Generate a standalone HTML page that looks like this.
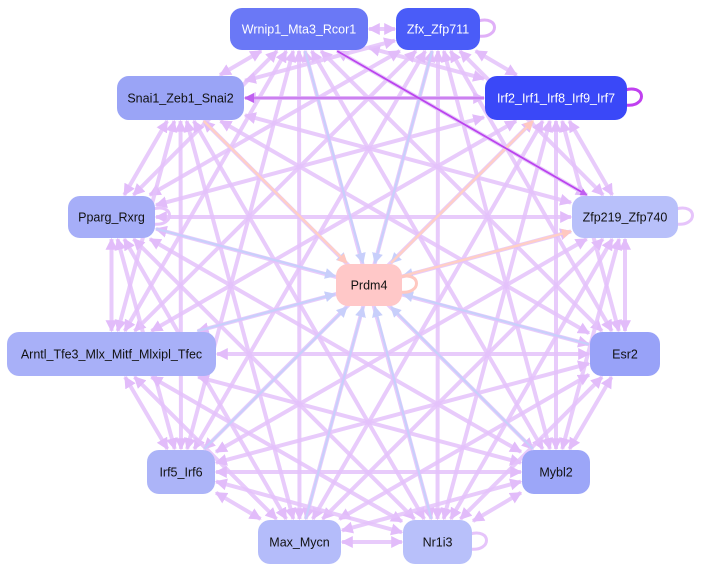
<!DOCTYPE html>
<html><head><meta charset="utf-8"><style>
html,body{margin:0;padding:0;background:#fff;width:710px;height:572px;overflow:hidden}
svg{display:block}
text{font-family:"Liberation Sans",sans-serif;font-size:12.5px}
</style></head><body>
<svg id="s" width="710" height="572" viewBox="0 0 710 572" xmlns="http://www.w3.org/2000/svg">
<defs>
<marker id="mp" viewBox="0 0 10 10" refX="9" refY="5" markerWidth="3" markerHeight="3" orient="auto"><path d="M0,0L10,5L0,10z" fill="#e2bcfa"/></marker>
<marker id="ms" viewBox="0 0 10 10" refX="1" refY="5" markerWidth="3" markerHeight="3" orient="auto"><path d="M10,0L0,5L10,10z" fill="#e2bcfa"/></marker>
<marker id="mb" viewBox="0 0 10 10" refX="9" refY="5" markerWidth="5" markerHeight="5" orient="auto"><path d="M0,0L10,5L0,10z" fill="#c8cffb"/></marker>
<marker id="md" viewBox="0 0 10 10" refX="9" refY="5" markerWidth="4" markerHeight="4" orient="auto"><path d="M0,0L10,5L0,10z" fill="#c060f0"/></marker>
<marker id="mo" viewBox="0 0 10 10" refX="9" refY="5" markerWidth="4" markerHeight="4" orient="auto"><path d="M0,0L10,5L0,10z" fill="#ffc8c0"/></marker>
</defs>
<g id="e"></g>
<g id="n"></g>
</svg>
<script>
var N=[
["Wrnip1_Mta3_Rcor1",230,8,138,42,"#6a78f6","#fff"],
["Zfx_Zfp711",396,8,84,42,"#4a5cf8","#fff"],
["Snai1_Zeb1_Snai2",117,76,127,44,"#9aa4f6","#111"],
["Irf2_Irf1_Irf8_Irf9_Irf7",485,76,142,44,"#3a48f8","#fff"],
["Pparg_Rxrg",68,196,87,42,"#a6aef8","#111"],
["Zfp219_Zfp740",572,196,106,42,"#b8c0fa","#111"],
["Prdm4",336,264,66,42,"#ffc8c8","#111"],
["Arntl_Tfe3_Mlx_Mitf_Mlxipl_Tfec",7,332,209,44,"#a8b0f8","#111"],
["Esr2",590,332,70,44,"#98a2f8","#111"],
["Irf5_Irf6",147,450,68,44,"#acb4f8","#111"],
["Mybl2",522,450,68,44,"#9ca6f8","#111"],
["Max_Mycn",258,520,83,44,"#b4bcfa","#111"],
["Nr1i3",403,520,69,44,"#b8c0fa","#111"]];
var NS="http://www.w3.org/2000/svg";
function c(i){var n=N[i];return [n[1]+n[3]/2,n[2]+n[4]/2];}
function clip(i,dx,dy){var n=N[i],hw=n[3]/2+1,hh=n[4]/2+1;return Math.min(Math.abs(dx)>0?hw/Math.abs(dx):1e9,Math.abs(dy)>0?hh/Math.abs(dy):1e9);}
var E=document.getElementById("e");
function line(a,b,col,w,mk,mk2,op){var A=c(a),B=c(b);var dx=B[0]-A[0],dy=B[1]-A[1];
var t1=clip(a,dx,dy),t2=clip(b,-dx,-dy);
var x1=A[0]+dx*t1,y1=A[1]+dy*t1,x2=B[0]-dx*t2,y2=B[1]-dy*t2;
var l=document.createElementNS(NS,"line");l.setAttribute("x1",x1);l.setAttribute("y1",y1);l.setAttribute("x2",x2);l.setAttribute("y2",y2);
l.setAttribute("stroke",col);l.setAttribute("stroke-width",w);if(op)l.setAttribute("stroke-opacity",op);
if(mk)l.setAttribute("marker-end","url(#"+mk+")");if(mk2)l.setAttribute("marker-start","url(#"+mk2+")");E.appendChild(l);}
for(var i=0;i<13;i++)for(var j=i+1;j<13;j++){if(i==6||j==6)continue;line(i,j,"#e4c2fa",4,"mp","ms",0.85);}
for(var i=0;i<13;i++){if(i==6)continue;line(i,6,"#c8d0fb",2.2,"mb",null);}
line(2,6,"#ffcfc6",2.5,"mo",null);line(6,3,"#ffcfc6",2.5,"mo",null);line(6,5,"#ffcfc6",2.5,"mo",null);
line(3,2,"#cc80f0",2.5,"md",null);line(0,5,"#bb44ee",1.8,"md",null);
function loop(i,col,w){var n=N[i];var x=n[1]+n[3],y=n[2]+n[4]/2;var p=document.createElementNS(NS,"path");
p.setAttribute("d","M"+(x-2)+","+(y-8)+" C"+(x+20)+","+(y-14)+" "+(x+20)+","+(y+10)+" "+(x-2)+","+(y+7));p.setAttribute("fill","none");p.setAttribute("stroke",col);p.setAttribute("stroke-width",w);E.appendChild(p);}
loop(1,"#e0b0f8",3);loop(3,"#c040f0",3);loop(4,"#e6c4fb",3);loop(5,"#e6c4fb",3);loop(6,"#ffc8c0",3);loop(12,"#e6c4fb",3);
var G=document.getElementById("n");
N.forEach(function(n){var r=document.createElementNS(NS,"rect");r.setAttribute("x",n[1]);r.setAttribute("y",n[2]);r.setAttribute("width",n[3]);r.setAttribute("height",n[4]);r.setAttribute("rx",12);r.setAttribute("fill",n[5]);G.appendChild(r);
var t=document.createElementNS(NS,"text");t.setAttribute("x",n[1]+n[3]/2);t.setAttribute("y",n[2]+n[4]/2+4.5);t.setAttribute("text-anchor","middle");t.setAttribute("fill",n[6]);t.textContent=n[0];G.appendChild(t);});
</script>
</body></html>
